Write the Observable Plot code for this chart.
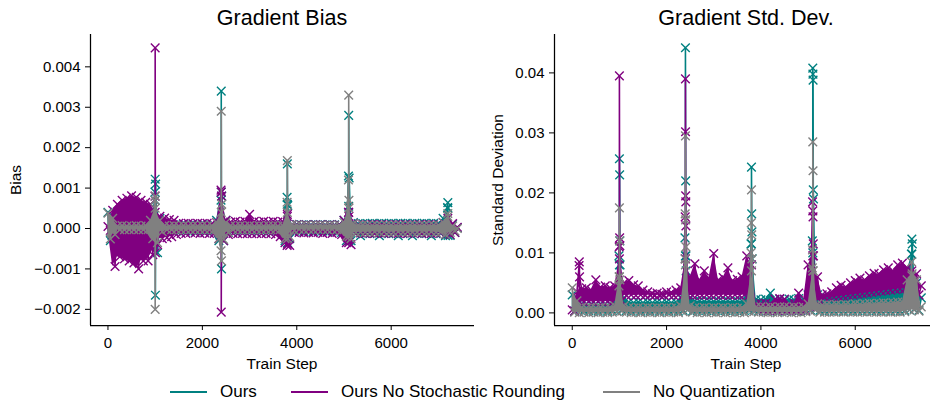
<!DOCTYPE html>
<html><head><meta charset="utf-8">
<script src="https://cdn.jsdelivr.net/npm/d3@7"></script>
<script src="https://cdn.jsdelivr.net/npm/@observablehq/plot@0.6"></script>
<style>
body{margin:0;background:#fff;}
#fig{position:relative;width:930px;height:403px;overflow:hidden;font-family:"Liberation Sans",Arial,Helvetica,sans-serif;color:#000;}
.abs{position:absolute;white-space:nowrap;line-height:1;}
.panel{position:absolute;top:0;}
</style></head><body><div id="fig"></div>
<script>
// ---------------- DATA ----------------
// sampling grid of train steps (every 50 steps, 0..7400)
const steps = d3.range(0, 7401, 50);
const seriesNames = ["Ours", "Ours No Stochastic Rounding", "No Quantization"];
const xTicks = [0, 2000, 4000, 6000];
const biasTicks = [-0.002, -0.001, 0, 0.001, 0.002, 0.003, 0.004];
const stdTicks = [0, 0.01, 0.02, 0.03, 0.04];
const biasUnit = 1e-4;   // bias values below are in units of 1e-4
const stdUnit = 1e-3;    // std values below are in units of 1e-3

// ---- Gradient Bias (units of 1e-4), alternating upper/lower readings of the noisy band
const biasOurs = [
  4.0,-3.0,3.0,-2.0,0.9,-0.6,0.8,-0.5,0.9,-0.6,
  0.8,-0.5,0.9,-0.6,0.8,-0.5,0.9,-0.6,2.5,-3.0,
  7.0,-6.0,2.5,-1.0,0.9,-0.6,0.8,-0.5,0.9,-0.6,
  0.8,-0.5,0.9,-0.6,0.8,-0.5,0.9,-0.6,0.8,-0.5,
  0.9,-0.6,0.8,-0.5,0.9,-0.6,2.0,-3.0,9.0,-3.0,
  2.0,-1.0,0.9,-0.6,0.8,-0.5,0.9,-0.6,0.8,-0.5,
  0.9,-0.6,0.8,-0.5,0.9,-0.6,0.8,-0.5,0.9,-0.6,
  0.9,-0.6,0.8,-0.5,0.9,-3.0,6.0,-2.5,1.0,-0.6,
  1.0,-0.6,0.9,-0.7,1.0,-0.6,0.9,-0.7,1.0,-0.6,
  1.0,-0.6,0.9,-0.7,1.0,-0.6,0.9,-0.7,1.0,-1.0,
  2.0,-3.0,5.5,-3.0,1.5,-1.3,1.2,-1.8,1.2,-1.2,
  1.2,-1.3,1.3,-1.2,1.2,-1.8,1.3,-1.2,1.2,-1.3,
  1.3,-1.2,1.2,-1.8,1.3,-1.3,1.3,-1.2,1.2,-1.8,
  1.3,-1.2,1.2,-1.3,1.3,-1.2,1.2,-1.8,1.3,-1.3,
  1.2,-1.2,2.5,-1.8,5.0,-1.7,1.0,-1.0,0.2
];
const biasNoSR = [
  0.5,-0.5,4.5,-9.4,6.0,-7.0,7.0,-7.5,7.5,-8.0,
  8.1,-8.5,7.7,-10.0,7.0,-8.0,6.5,-8.0,6.0,-6.5,
  4.0,-4.0,3.0,-2.5,2.6,-2.3,2.2,-2.0,2.0,-1.5,
  1.3,-1.2,1.2,-1.2,1.3,-1.0,1.2,-1.1,1.3,-1.2,
  1.2,-1.1,1.3,-1.2,1.2,-1.2,1.5,-2.5,9.0,-3.0,
  2.0,-1.5,1.6,-1.2,1.8,-1.3,1.6,-1.2,1.8,-1.3,
  3.5,-1.3,1.8,-1.2,1.6,-1.3,1.8,-1.2,1.6,-1.3,
  1.8,-1.5,1.6,-2.0,1.7,-3.5,3.0,-4.2,1.0,-1.0,
  0.9,-1.0,0.8,-1.1,0.9,-1.0,0.8,-1.1,0.9,-1.0,
  0.9,-1.2,0.8,-1.0,0.9,-1.2,0.8,-1.0,0.9,-1.5,
  2.0,-3.5,4.0,-4.0,1.2,-1.2,0.9,-1.1,0.9,-1.2,
  0.9,-1.1,1.0,-1.2,0.9,-1.1,1.0,-1.2,0.9,-1.1,
  0.9,-1.1,1.0,-1.2,0.9,-1.1,1.0,-1.2,0.9,-1.1,
  0.9,-1.1,1.0,-1.2,0.9,-1.1,1.0,-1.2,0.9,-1.1,
  0.9,-1.1,1.5,-1.5,2.5,-1.5,1.2,-1.0,0.3
];
const biasNoQuant = [
  3.8,-2.6,2.5,-1.5,0.6,-0.3,0.7,-0.3,0.6,-0.3,
  0.6,-0.3,0.7,-0.3,0.6,-0.3,0.7,-0.3,2.0,-2.5,
  5.0,-3.5,2.0,-0.8,0.7,-0.3,0.6,-0.3,0.7,-0.3,
  0.6,-0.3,0.7,-0.3,0.6,-0.3,0.7,-0.3,0.6,-0.3,
  0.7,-0.3,0.6,-0.3,0.7,-0.3,1.5,-2.5,4.0,-2.7,
  1.5,-1.0,0.7,-0.3,0.6,-0.3,0.7,-0.3,0.6,-0.3,
  0.7,-0.3,0.6,-0.3,0.7,-0.3,0.6,-0.3,0.7,-0.3,
  0.7,-0.3,0.6,-0.3,0.7,-2.5,4.0,-2.0,1.0,-0.5,
  0.8,-0.2,0.7,-0.3,0.8,-0.2,0.7,-0.3,0.8,-0.2,
  0.8,-0.2,0.7,-0.3,0.8,-0.2,0.7,-0.3,0.8,-0.5,
  1.5,-2.0,5.0,-2.5,1.2,-1.0,0.8,-0.9,0.9,-0.9,
  0.8,-0.9,0.7,-0.8,0.8,-0.9,0.7,-0.8,0.8,-0.9,
  0.8,-0.9,0.7,-0.8,0.8,-0.9,0.7,-0.8,0.8,-0.9,
  0.8,-0.9,0.7,-0.8,0.8,-0.9,0.7,-0.8,0.8,-0.9,
  0.8,-0.9,1.5,-1.5,3.0,-1.0,0.6,-0.6,0.0
];
// spike readings (extra steps) for Gradient Bias, units of 1e-4
const biasOursSpikeSteps = [995,1000,1005,1010,2395,2400,2405,2410,3795,3800,3805,3810,5095,5100,5105,5110,7195,7200,7205];
const biasOursSpikeVals  = [9.0,12.2,-16.5,11.0,7.0,34.0,-10.0,8.0,7.7,16.0,-3.5,5.7,13.0,28.0,-3.0,12.5,5.2,6.4,-1.7];
const biasNoSRSpikeSteps = [995,1000,1005,2395,2400,2405,3795,3800,3805,5095,5100,5105];
const biasNoSRSpikeVals  = [8.0,44.7,-6.0,9.5,-20.7,8.0,-4.2,3.5,-3.8,4.0,-3.5,3.0];
const biasNoQuantSpikeSteps = [995,1000,1005,2395,2400,2405,2410,3795,3800,3805,5095,5100,5105,5110,7200];
const biasNoQuantSpikeVals  = [7.0,-20.0,8.0,-5.5,29.0,-8.0,6.0,6.5,16.8,-2.5,12.0,33.0,7.0,-2.0,3.7];

// ---- Gradient Std. Dev. (units of 1e-3)
const stdOurs = [
  3.0,0.3,2.5,0.5,1.5,0.3,1.5,0.4,1.5,0.3,
  1.5,0.3,1.5,0.4,1.5,0.3,1.5,0.4,2.0,0.3,
  8.0,0.5,2.5,0.4,1.8,0.3,1.7,0.4,1.8,0.3,
  1.7,0.4,1.8,0.3,1.7,0.4,1.8,0.3,1.7,0.4,
  1.8,0.3,1.7,0.4,1.8,0.3,2.5,0.4,9.5,0.5,
  2.5,0.3,2.0,0.4,2.0,0.3,1.9,0.4,2.0,0.3,
  1.9,0.4,2.0,0.3,1.9,0.4,2.0,0.3,1.9,0.4,
  2.0,0.3,2.0,0.4,3.0,0.5,11.5,0.5,2.3,0.3,
  2.2,0.4,2.3,0.3,3.3,0.4,2.2,0.3,2.3,0.4,
  2.2,0.3,2.3,0.4,2.2,0.3,2.4,0.4,2.3,0.3,
  3.0,0.5,10.0,0.6,3.0,0.4,2.5,0.3,2.6,0.4,
  2.7,0.3,2.8,0.4,2.9,0.3,3.0,0.4,3.1,0.3,
  3.2,0.4,3.3,0.3,3.5,0.4,3.4,0.3,3.6,0.4,
  3.7,0.3,4.2,0.4,3.8,0.3,4.5,0.4,3.9,0.3,
  4.0,0.4,7.0,0.5,9.8,0.6,5.0,0.4,2.5
];
const stdNoSR = [
  0.5,0.3,3.5,1.9,4.0,1.8,4.2,1.9,3.8,1.8,
  5.5,1.9,4.3,1.8,4.5,1.9,4.2,1.8,4.5,1.9,
  9.0,2.0,5.0,2.9,5.4,3.0,4.7,2.9,4.5,3.0,
  3.8,2.9,3.5,3.0,3.2,2.9,3.3,3.0,3.1,2.9,
  3.5,3.0,3.4,2.9,3.8,3.0,4.2,2.9,9.0,3.0,
  6.0,2.9,8.2,3.0,5.5,2.9,7.0,3.0,5.8,2.9,
  9.9,3.0,5.5,2.9,5.9,3.0,7.5,2.9,5.4,3.0,
  5.6,2.9,6.0,3.0,9.5,2.9,8.0,1.0,1.5,0.8,
  1.5,0.5,1.6,0.4,1.5,0.5,2.3,0.4,2.4,0.5,
  2.3,0.4,1.5,0.5,1.6,0.4,3.3,0.5,1.8,0.4,
  8.0,1.0,9.5,1.0,6.0,2.0,3.0,2.5,3.2,2.5,
  3.5,2.6,4.2,2.7,4.6,2.8,4.3,2.9,5.0,3.0,
  5.4,3.1,5.8,3.2,5.5,3.3,6.2,3.4,6.6,3.5,
  6.5,3.6,7.2,3.7,7.5,3.8,7.0,3.9,8.0,4.0,
  8.3,4.0,7.5,4.2,7.0,4.2,6.5,3.0,4.5
];
const stdNoQuant = [
  4.2,0.1,2.0,0.05,0.9,0.1,0.8,0.05,0.9,0.1,
  0.8,0.05,0.9,0.1,0.8,0.05,0.9,0.1,1.2,0.2,
  6.0,0.3,1.2,0.1,0.9,0.05,0.8,0.1,0.9,0.05,
  0.8,0.1,0.9,0.05,0.8,0.1,0.9,0.05,0.8,0.1,
  0.9,0.05,0.8,0.1,0.9,0.05,1.2,0.2,8.0,0.5,
  1.2,0.1,0.9,0.05,0.8,0.1,0.9,0.05,0.8,0.1,
  0.9,0.05,0.8,0.1,0.9,0.05,0.8,0.1,0.9,0.05,
  0.8,0.1,0.9,0.05,1.5,0.3,7.0,0.2,1.0,0.1,
  1.0,0.1,0.9,0.05,1.0,0.1,0.9,0.05,1.0,0.1,
  1.0,0.1,0.9,0.05,1.0,0.1,0.9,0.05,1.0,0.2,
  1.5,0.3,7.0,0.5,1.5,0.1,1.3,0.1,1.4,0.1,
  1.3,0.1,1.4,0.15,1.3,0.1,1.4,0.15,1.3,0.1,
  1.5,0.1,1.4,0.15,1.5,0.1,1.6,0.15,1.5,0.1,
  1.6,0.1,1.7,0.15,1.6,0.1,1.7,0.15,1.8,0.1,
  1.8,0.2,5.5,0.5,6.2,0.5,5.5,0.3,1.0
];
// spike readings (extra steps) for Gradient Std. Dev., units of 1e-3
const stdOursSpikeSteps = [990,1000,1005,1010,1015,2390,2400,2405,2410,2415,3790,3800,3805,3810,3815,5090,5100,5103,5106,5110,5115,7190,7200,7210];
const stdOursSpikeVals  = [9.5,25.7,23.0,12.0,8.0,12.5,44.2,22.0,9.5,7.0,11.5,24.3,16.5,13.5,9.0,12.0,40.8,39.8,38.8,20.5,19.0,9.8,12.3,11.5];
const stdNoSRSpikeSteps = [145,150,155,995,1000,1005,1010,2395,2400,2402,2405,2408,2410,5095,5100,5105,5110,5115];
const stdNoSRSpikeVals  = [7.9,8.5,6.0,11.0,39.5,12.5,11.2,16.0,39.0,30.2,19.5,18.5,14.5,18.5,17.0,16.0,11.5,9.5];
const stdNoQuantSpikeSteps = [990,995,1000,1005,1010,2390,2395,2400,2405,2410,3790,3795,3800,3805,3810,5090,5095,5100,5105,5110,7195,7205];
const stdNoQuantSpikeVals  = [4.5,6.0,17.5,12.0,5.5,9.0,16.5,29.5,15.5,11.0,10.0,15.0,20.5,13.0,9.0,7.5,10.5,28.5,23.7,7.0,8.5,6.5];

// ---------------- BUILD ----------------
function build(base, sSteps, sVals, unit) {
  const rows = base.map((v, i) => ({step: steps[i], value: v * unit}));
  sSteps.forEach((s, i) => rows.push({step: s, value: sVals[i] * unit}));
  const points = d3.sort(rows, d => d.step);
  // band: each upper reading paired with the lower reading that follows it
  const band = [];
  for (let i = 0; i < base.length; i += 2) {
    const lo = i + 1 < base.length ? base[i + 1] : base[i];
    band.push({step: steps[i], hi: base[i] * unit, lo: lo * unit});
  }
  return {points, band};
}
const colors = ["#008080", "#800080", "#808080"];
const biasSeries = [
  build(biasOurs, biasOursSpikeSteps, biasOursSpikeVals, biasUnit),
  build(biasNoSR, biasNoSRSpikeSteps, biasNoSRSpikeVals, biasUnit),
  build(biasNoQuant, biasNoQuantSpikeSteps, biasNoQuantSpikeVals, biasUnit)
];
const stdSeries = [
  build(stdOurs, stdOursSpikeSteps, stdOursSpikeVals, stdUnit),
  build(stdNoSR, stdNoSRSpikeSteps, stdNoSRSpikeVals, stdUnit),
  build(stdNoQuant, stdNoQuantSpikeSteps, stdNoQuantSpikeVals, stdUnit)
];

const FONT = '"Liberation Sans", Arial, Helvetica, sans-serif';

function panel({width, marginLeft, marginRight, xDomain, yDomain, yTicks, yFormat, series}) {
  const marks = [];
  series.forEach((s, k) => {
    marks.push(Plot.areaY(s.band, {x: "step", y1: "lo", y2: "hi", fill: colors[k], fillOpacity: 1}));
    marks.push(Plot.line(s.points, {x: "step", y: "value", stroke: colors[k], strokeWidth: 1.6}));
    marks.push(Plot.dot(s.points, {x: "step", y: "value", symbol: "times", r: 4, stroke: colors[k], strokeWidth: 1.4}));
  });
  marks.push(Plot.ruleX([xDomain[0]], {stroke: "#000", strokeWidth: 1.25}));
  marks.push(Plot.ruleY([yDomain[0]], {stroke: "#000", strokeWidth: 1.25}));
  marks.push(Plot.axisX({ticks: xTicks, tickFormat: d3.format("d"), tickSize: 5, tickPadding: 7, label: null, stroke: "#000"}));
  marks.push(Plot.axisY({ticks: yTicks, tickFormat: d3.format(yFormat), tickSize: 5, tickPadding: 5, label: null, stroke: "#000"}));
  return Plot.plot({
    width, height: 370,
    marginLeft, marginRight, marginTop: 34, marginBottom: 45,
    x: {domain: xDomain},
    y: {domain: yDomain},
    style: {fontFamily: FONT, fontSize: "15px", color: "#000", background: "transparent", overflow: "visible"},
    marks
  });
}

const fig = document.getElementById("fig");
const left = panel({width: 475, marginLeft: 90, marginRight: 1, xDomain: [-370, 7765], yDomain: [-0.0024, 0.0048],
  yTicks: biasTicks, yFormat: ".3f", series: biasSeries});
left.classList.add("panel"); left.style.left = "0px";
fig.appendChild(left);
const right = panel({width: 468, marginLeft: 84, marginRight: 0, xDomain: [-376, 7765], yDomain: [-0.0021, 0.0464],
  yTicks: stdTicks, yFormat: ".2f", series: stdSeries});
right.classList.add("panel"); right.style.left = "470px";
fig.appendChild(right);

function addText(txt, x, y, size, opts = {}) {
  const d = document.createElement("div");
  d.className = "abs";
  d.textContent = txt;
  d.style.fontSize = size + "px";
  d.style.left = x + "px";
  d.style.top = y + "px";
  d.style.transform = opts.rotate ? "translate(-50%,-50%) rotate(-90deg)" : (opts.center ? "translateX(-50%)" : "");
  fig.appendChild(d);
}
addText("Gradient Bias", 282, 8, 21.5, {center: true});
addText("Gradient Std. Dev.", 746, 8, 21.5, {center: true});
addText("Train Step", 282, 355.5, 15.5, {center: true});
addText("Train Step", 746, 355.5, 15.5, {center: true});
addText("Bias", 16, 180, 15.5, {rotate: true});
addText("Standard Deviation", 497.5, 180, 15.5, {rotate: true});

// legend
const legendX = [[170, 220], [291, 341], [603, 653]];
seriesNames.forEach((name, k) => {
  const ln = document.createElement("div");
  ln.style.cssText = `position:absolute;left:${legendX[k][0]}px;top:390.5px;width:37px;height:2px;background:${colors[k]};`;
  fig.appendChild(ln);
  addText(name, legendX[k][1], 383.2, 17);
});
</script>
</body></html>
